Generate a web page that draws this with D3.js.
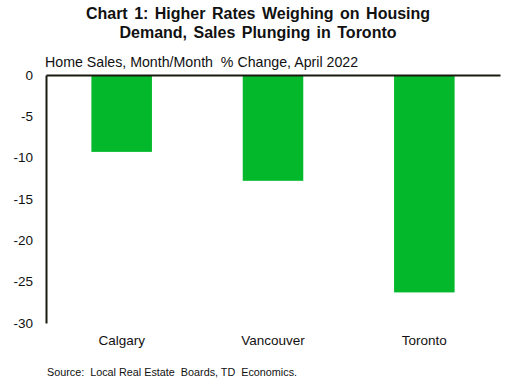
<!DOCTYPE html>
<html><head><meta charset="utf-8">
<script src="https://cdn.jsdelivr.net/npm/d3@7/dist/d3.min.js"></script>
<style>body{margin:0;background:#fff}svg{display:block;font-family:"Liberation Sans",Arial,sans-serif}</style>
</head><body><svg id="c" width="515" height="384"></svg>
<script>
const categories = ["Calgary", "Vancouver", "Toronto"];
const values = [-9.3, -12.8, -26.3];
const yTicks = [0, -5, -10, -15, -20, -25, -30];
const titleLines = ["Chart 1: Higher Rates Weighing on Housing", "Demand, Sales Plunging in Toronto"];
const subtitle = "Home Sales, Month/Month  % Change, April 2022";
const source = "Source:  Local Real Estate  Boards, TD  Economics.";

const svg = d3.select("#c");
const mLeft = 46, mRight = 500, mTop = 75, mBottom = 323;
const x = d3.scaleBand().domain(categories).range([mLeft, mRight]).paddingInner(0.6).paddingOuter(0.3);
const y = d3.scaleLinear().domain([0, -30]).range([mTop, mBottom]);

svg.append("g").selectAll("text").data(titleLines).join("text")
  .attr("x", 258).attr("y", (d, i) => 18.5 + i * 19.5)
  .attr("text-anchor", "middle").attr("font-weight", "bold").attr("font-size", 16)
  .attr("word-spacing", 2).attr("fill", "#111").text(d => d);

svg.append("text").attr("x", 45).attr("y", 66.5).attr("font-size", 14.2).attr("fill", "#111")
  .style("white-space", "pre").text(subtitle);

svg.append("g").selectAll("rect").data(values).join("rect")
  .attr("x", (d, i) => x(categories[i])).attr("width", x.bandwidth())
  .attr("y", d => y(0)).attr("height", d => y(d) - y(0))
  .attr("fill", "#03b82a");

const yAxis = svg.append("g").attr("transform", `translate(${mLeft},0)`)
  .call(d3.axisLeft(y).tickValues(yTicks).tickSize(0).tickPadding(13).tickFormat(d => String(d)));
yAxis.select(".domain").attr("stroke", "#1a1a10").attr("stroke-width", 2);
yAxis.selectAll("text").attr("font-size", 13.5).attr("fill", "#111").attr("font-family", "Liberation Sans, Arial, sans-serif");

const xAxis = svg.append("g").attr("transform", `translate(0,${y(0)})`)
  .call(d3.axisBottom(x).tickSize(0).tickPadding(0).tickFormat(() => ""));
xAxis.select(".domain").attr("stroke", "#1a1a10").attr("stroke-width", 2);

svg.append("g").selectAll("text").data(categories).join("text")
  .attr("x", d => x(d) + x.bandwidth() / 2).attr("y", 345)
  .attr("text-anchor", "middle").attr("font-size", 13.5).attr("fill", "#111").text(d => d);

svg.append("text").attr("x", 47).attr("y", 376).attr("font-size", 10.8).attr("fill", "#111")
  .style("white-space", "pre").text(source);
</script></body></html>
